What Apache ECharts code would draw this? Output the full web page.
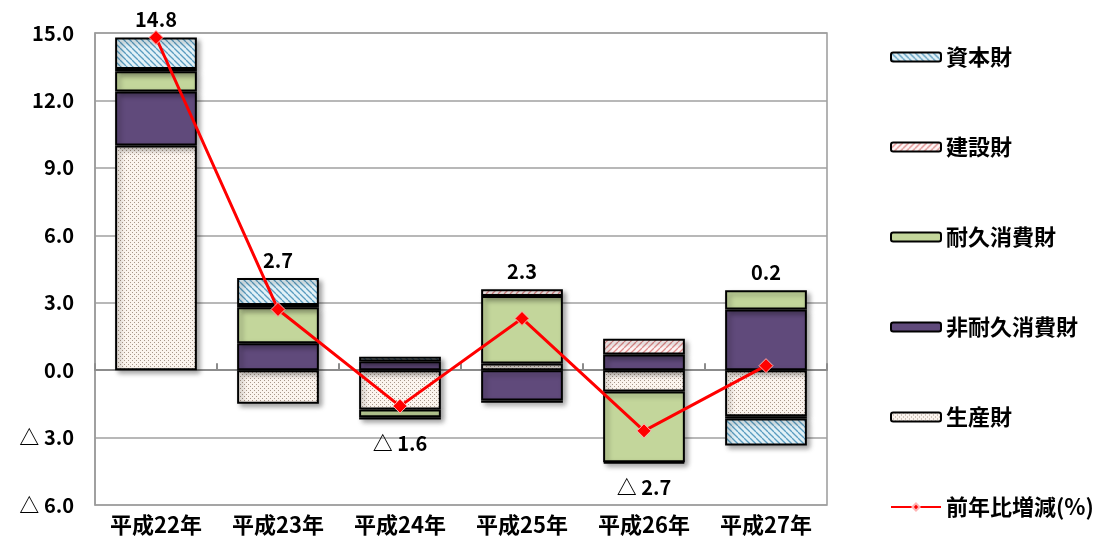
<!DOCTYPE html>
<html>
<head>
<meta charset="utf-8">
<script src="https://cdn.jsdelivr.net/npm/echarts@6/dist/echarts.min.js"></script>
<style>
html,body{margin:0;padding:0;background:#fff;}
#chart{width:1104px;height:552px;}
</style>
</head>
<body>
<div id="chart"></div>
<script>
// ---- data ----
const categories = ['平成22年','平成23年','平成24年','平成25年','平成26年','平成27年'];
const seiSanZai   = [10.0, -1.5, -1.75, 0.3, -0.95, -2.05];   // 生産財
const hiTaikyu    = [2.4, 1.2, 0.4, -1.35, 0.7, 2.7];         // 非耐久消費財
const taikyu      = [0.9, 1.6, -0.35, 3.0, -3.15, 0.85];      // 耐久消費財
const kensetsu    = [0.1, 0.1, -0.1, 0.3, 0.7, -0.1];         // 建設財
const shihon      = [1.4, 1.2, 0.2, -0.1, -0.05, -1.2];       // 資本財
const yoyChange   = [14.8, 2.7, -1.6, 2.3, -2.7, 0.2];        // 前年比増減(%)
const yTicks      = [-6, -3, 0, 3, 6, 9, 12, 15];

// ---- patterns ----
function hatch(bg, fg, dir) {
  const s = 6, c = document.createElement('canvas');
  c.width = s; c.height = s;
  const ctx = c.getContext('2d');
  ctx.fillStyle = bg; ctx.fillRect(0, 0, s, s);
  ctx.strokeStyle = fg; ctx.lineWidth = 1.3;
  for (let k = -1; k <= 1; k++) {
    ctx.beginPath();
    if (dir === 'back') { ctx.moveTo(k * s, 0); ctx.lineTo(k * s + s, s); }
    else { ctx.moveTo(k * s, s); ctx.lineTo(k * s + s, 0); }
    ctx.stroke();
  }
  return c;
}
function dots(bg, fg) {
  const s = 4, c = document.createElement('canvas');
  c.width = s; c.height = s;
  const ctx = c.getContext('2d');
  ctx.fillStyle = bg; ctx.fillRect(0, 0, s, s);
  ctx.fillStyle = fg;
  ctx.fillRect(0, 0, 1, 1);
  ctx.fillRect(2, 2, 1, 1);
  return c;
}
const pShihon = { image: hatch('#e2f1f7', '#5a9cc0', 'back'), repeat: 'repeat' };
const pKensetsu = { image: hatch('#fff6f6', '#e08c8c', 'fwd'), repeat: 'repeat' };
const pSeisan = { image: dots('#fbf4ee', '#a8978a'), repeat: 'repeat' };

const FONT = '"Noto Sans CJK JP", "Noto Sans", sans-serif';
const fmt = v => v < 0 ? '△ ' + Math.abs(v).toFixed(1) : v.toFixed(1);

const barStyle = (color) => ({
  color: color,
  borderColor: '#000',
  borderWidth: 2,
  shadowColor: 'rgba(0,0,0,0.35)',
  shadowBlur: 5,
  shadowOffsetX: 3,
  shadowOffsetY: 3
});

function barSeries(name, data, color) {
  return {
    name: name, type: 'bar', stack: 'total', data: data,
    barWidth: '67%', itemStyle: barStyle(color),
    emphasis: { disabled: true }
  };
}

// stack extents for labels
const allStacks = [seiSanZai, hiTaikyu, taikyu, kensetsu, shihon];
const labelData = categories.map((c, i) => {
  let pos = 0, neg = 0;
  allStacks.forEach(a => { if (a[i] >= 0) pos += a[i]; else neg += a[i]; });
  return [i, yoyChange[i], pos, neg];
});

const chart = echarts.init(document.getElementById('chart'));
chart.setOption({
  animation: false,
  backgroundColor: '#fff',
  grid: {
    left: 95, right: 277, top: 33, bottom: 47,
    show: true, borderColor: '#9a9a9a', borderWidth: 1.5, backgroundColor: 'transparent'
  },
  legend: {
    orient: 'vertical',
    left: 885, top: 40,
    itemWidth: 50, itemHeight: 9,
    itemGap: 66,
    textStyle: { fontFamily: FONT, fontWeight: 'bold', fontSize: 22, color: '#000', lineHeight: 24 },
    data: ['資本財', '建設財', '耐久消費財', '非耐久消費財', '生産財', '前年比増減(%)']
  },
  xAxis: [
    {
      type: 'category', data: categories, position: 'bottom',
      axisLine: { show: false, onZero: false },
      axisTick: { show: false },
      axisLabel: { fontFamily: FONT, fontWeight: 'bold', fontSize: 22, color: '#000', margin: 9 }
    },
    {
      type: 'category', data: categories, position: 'top',
      axisLine: { show: true, onZero: true, lineStyle: { color: '#8c8c8c', width: 2 } },
      axisTick: { show: true, length: 7, lineStyle: { color: '#8c8c8c', width: 2 } },
      axisLabel: { show: false },
      splitLine: { show: false }
    }
  ],
  yAxis: {
    type: 'value', min: yTicks[0], max: yTicks[yTicks.length - 1], interval: 3,
    axisLine: { show: true, lineStyle: { color: '#9a9a9a', width: 1.5 } },
    axisTick: { show: false },
    splitLine: { show: true, lineStyle: { color: '#a0a0a0', width: 1.5 } },
    axisLabel: { fontFamily: FONT, fontWeight: 'bold', fontSize: 20, color: '#000', margin: 21, formatter: fmt }
  },
  series: [
    barSeries('生産財', seiSanZai, pSeisan),
    barSeries('非耐久消費財', hiTaikyu, '#604a7b'),
    barSeries('耐久消費財', taikyu, '#c3d69b'),
    barSeries('建設財', kensetsu, pKensetsu),
    barSeries('資本財', shihon, pShihon),
    {
      name: '前年比増減(%)', type: 'line', data: yoyChange, z: 5,
      lineStyle: { color: '#ff0000', width: 3 },
      itemStyle: { color: '#ff0000', borderColor: '#ffb4b4', borderWidth: 1 },
      symbol: 'diamond', symbolSize: 14,
      emphasis: { disabled: true }
    },
    {
      type: 'custom', z: 6, data: labelData,
      renderItem: function (params, api) {
        const v = api.value(1);
        const p = api.coord([api.value(0), v >= 0 ? api.value(2) : api.value(3)]);
        return {
          type: 'text',
          x: p[0], y: p[1] + (v >= 0 ? -18 : 24),
          style: {
            text: fmt(v), align: 'center', verticalAlign: 'middle',
            font: 'bold 20px ' + FONT, fill: '#000'
          }
        };
      }
    }
  ]
});
</script>
</body>
</html>
